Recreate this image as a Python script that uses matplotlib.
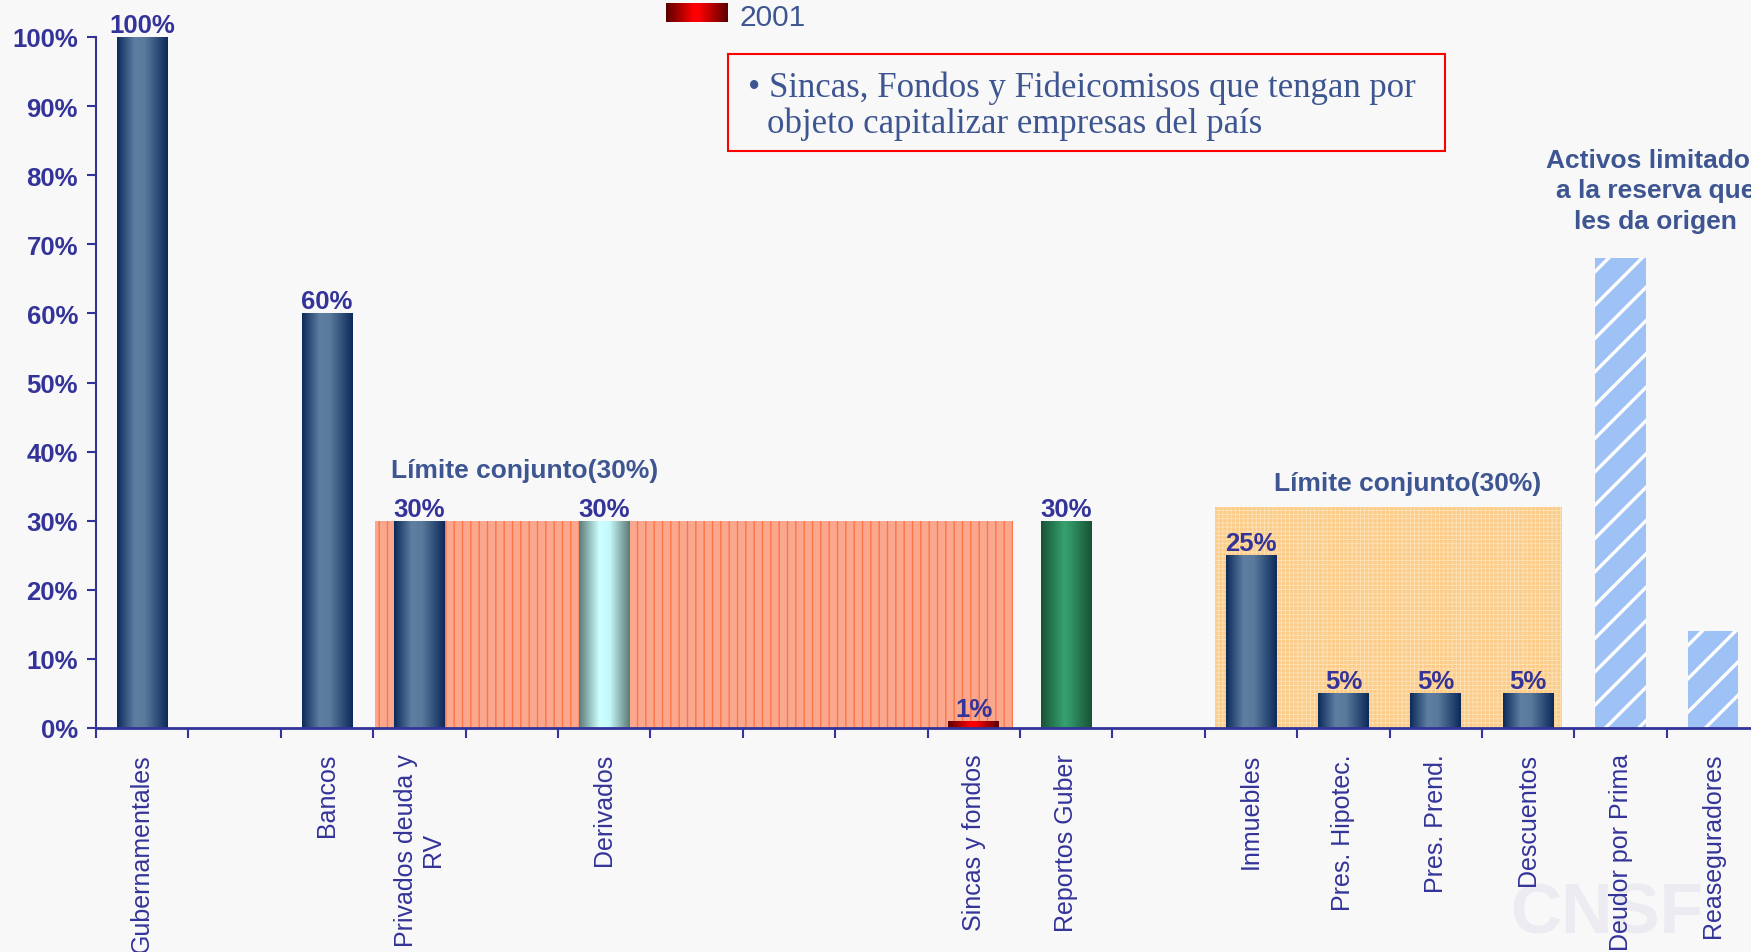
import numpy as np
import matplotlib
matplotlib.use('Agg')
import matplotlib.pyplot as plt
from matplotlib.colors import LinearSegmentedColormap
from matplotlib.patches import Rectangle

# ---------------- data ----------------
categories = ['Gubernamentales', '', 'Bancos', 'Privados deuda y\nRV', '', 'Derivados',
              '', '', '', 'Sincas y fondos', 'Reportos Guber', '', 'Inmuebles',
              'Pres. Hipotec.', 'Pres. Prend.', 'Descuentos', 'Deudor por Prima',
              'Reaseguradores']
values = [1.00, None, 0.60, 0.30, None, 0.30, None, None, None, 0.01, 0.30, None,
          0.25, 0.05, 0.05, 0.05, 0.68, 0.14]
bar_styles = ['navy', None, 'navy', 'navy', None, 'cyan', None, None, None, 'red', 'green',
              None, 'navy', 'navy', 'navy', 'navy', 'hatch', 'hatch']
value_labels = ['100%', '', '60%', '30%', '', '30%', '', '', '', '1%', '30%', '',
                '25%', '5%', '5%', '5%', '', '']
ytick_values = [0.0, 0.1, 0.2, 0.3, 0.4, 0.5, 0.6, 0.7, 0.8, 0.9, 1.0]
ytick_labels = ['0%', '10%', '20%', '30%', '40%', '50%', '60%', '70%', '80%', '90%', '100%']

group_starts = [3.02, 12.11]
group_ends = [9.92, 15.87]
group_limits = [0.30, 0.32]
group_titles = ['Límite conjunto(30%)', 'Límite conjunto(30%)']
group_title_x = [4.64, 14.2]
group_title_y = [0.373, 0.355]

legend_label = '2001'
note_lines = ['• Sincas, Fondos y Fideicomisos que tengan por',
              'objeto capitalizar empresas del país']
reserve_note = 'Activos limitados\na la reserva que\nles da origen'
watermark = 'CNSF'

# ---------------- style ----------------
plt.rcParams['font.family'] = ['Liberation Sans', 'DejaVu Sans']
W, H = 1751, 953
BG = '#f8f8f8'
AX_COL = '#333399'
TXT2 = '#3d5590'

gradients = {
    'navy': [(0.0, '#0b2a5b'), (0.35, '#5f7fa2'), (0.55, '#5a7a9c'), (1.0, '#0b2a5b')],
    'cyan': [(0.0, '#5a7a76'), (0.4, '#ccffff'), (0.6, '#c6fafa'), (1.0, '#5a7a76')],
    'red': [(0.0, '#5a0000'), (0.45, '#ff0000'), (0.55, '#f80000'), (1.0, '#5a0000')],
    'green': [(0.0, '#185236'), (0.45, '#36a06e'), (0.55, '#329868'), (1.0, '#185236')],
}

fig = plt.figure(figsize=(W / 100, H / 100), dpi=100, facecolor=BG)
ax = fig.add_axes([96 / W, (H - 729) / H, 18 * 92.4 / W, 691 / H])
ax.set_facecolor('none')

n = len(categories)
centers = np.arange(n) + 0.5
bar_w = 0.55

# joint-limit background regions
with plt.rc_context({'hatch.linewidth': 1.0}):
    ax.bar(group_starts[0], group_limits[0], group_ends[0] - group_starts[0], align='edge',
           facecolor='#f9a88e', edgecolor='#ff7447', hatch='||', linewidth=0, zorder=1)
with plt.rc_context({'hatch.linewidth': 0.6}):
    ax.bar(group_starts[1], group_limits[1], group_ends[1] - group_starts[1], align='edge',
           facecolor='#fccc88', edgecolor='#fde2b8', hatch='++++', linewidth=0, zorder=1)

grad = np.linspace(0, 1, 256).reshape(1, -1)
for i, (v, s) in enumerate(zip(values, bar_styles)):
    if v is None:
        continue
    x = centers[i]
    if s == 'hatch':
        with plt.rc_context({'hatch.linewidth': 2.4}):
            ax.bar(x, v, bar_w, facecolor='#9fc2f6', edgecolor='white', hatch='/',
                   linewidth=0, zorder=3)
        continue
    b = ax.bar(x, v, bar_w, color='none', linewidth=0, zorder=3)[0]
    cmap = LinearSegmentedColormap.from_list(s, gradients[s])
    im = ax.imshow(grad, extent=[x - bar_w / 2, x + bar_w / 2, 0, v], aspect='auto',
                   cmap=cmap, interpolation='bilinear', zorder=3)
    im.set_clip_path(b)
    if value_labels[i]:
        ax.text(x, v, value_labels[i], ha='center', va='bottom', fontsize=18.5,
                fontweight='bold', color=AX_COL, zorder=5)

for t, gx, gy in zip(group_titles, group_title_x, group_title_y):
    ax.text(gx, gy, t, ha='center', va='center', fontsize=19, fontweight='bold',
            color=TXT2, zorder=5)

ax.text(16.88, 0.778, reserve_note, ha='center', va='center', fontsize=19,
        fontweight='bold', color=TXT2, multialignment='center', linespacing=1.35,
        zorder=5, clip_on=False)

# axes
ax.set_xlim(0, n)
ax.set_ylim(0, 1.0)
for sp in ['top', 'right']:
    ax.spines[sp].set_visible(False)
ax.spines['left'].set_color(AX_COL)
ax.spines['bottom'].set_color(AX_COL)
ax.spines['left'].set_linewidth(1.5)
ax.spines['bottom'].set_linewidth(2.0)
ax.spines['bottom'].set_zorder(6)

ax.set_yticks(ytick_values)
ax.set_yticklabels(ytick_labels)
ax.tick_params(axis='y', length=6.5, width=1.5, color=AX_COL, pad=6.5,
               labelsize=18.5, labelcolor=AX_COL)
for lab in ax.get_yticklabels():
    lab.set_fontweight('bold')

ax.set_xticks(np.arange(n + 1))
ax.set_xticklabels([''] * (n + 1))
ax.tick_params(axis='x', which='major', length=7, width=1.5, color=AX_COL)
ax.set_xticks(centers, minor=True)
ax.set_xticklabels(categories, minor=True, rotation=90, fontsize=18, color=AX_COL,
                   va='top', ha='center')
ax.tick_params(axis='x', which='minor', length=0, pad=18)

# legend
legax = fig.add_axes([666 / W, 1 - 23 / H, 62 / W, 19 / H])
legax.imshow(grad, aspect='auto',
             cmap=LinearSegmentedColormap.from_list('leg', gradients['red']))
legax.axis('off')
fig.text(739 / W, 1 - 17.5 / H, legend_label, fontsize=21.5, color=TXT2, va='center',
         ha='left')

# red note box
fig.add_artist(Rectangle((728 / W, 1 - 152 / H), (1445 - 728) / W, (152 - 55) / H,
                         transform=fig.transFigure, fill=False, edgecolor='#ff0000',
                         linewidth=1.5))
fig.text(748 / W, 1 - 97 / H, note_lines[0], fontsize=25, family='Liberation Serif',
         color=TXT2, va='baseline', ha='left')
fig.text(767 / W, 1 - 133 / H, note_lines[1], fontsize=25, family='Liberation Serif',
         color=TXT2, va='baseline', ha='left')

# watermark
fig.text(1607 / W, 1 - 916 / H, watermark, fontsize=51, fontweight='bold', color='#ebebf1',
         ha='center', va='center', zorder=-1)

fig.savefig('out.png', dpi=100, facecolor=BG)
